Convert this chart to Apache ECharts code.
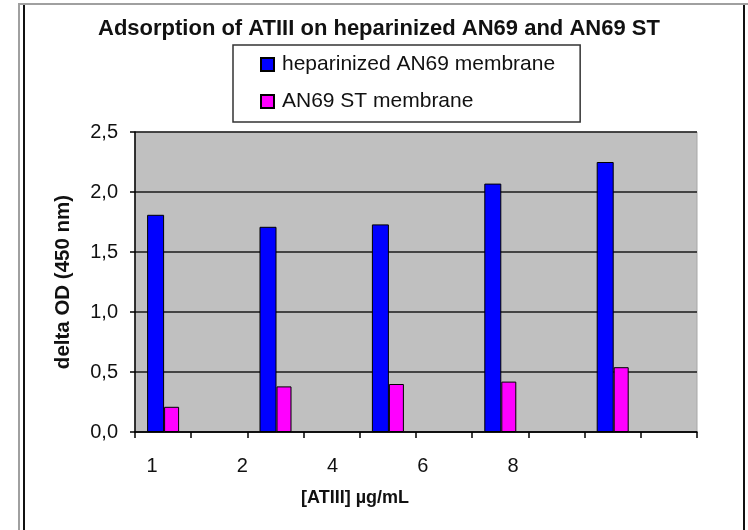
<!DOCTYPE html>
<html>
<head>
<meta charset="utf-8">
<title>Adsorption of ATIII</title>
<script src="https://cdn.jsdelivr.net/npm/echarts@6.0.0/dist/echarts.min.js"></script>
<style>
  html, body { margin: 0; padding: 0; background: #fff; }
  #main { width: 748px; height: 530px; }
</style>
</head>
<body>
<div id="main"></div>
<script>
// data
var concentrations = ['1', '2', '4', '6', '8'];
var heparinizedAN69 = [1.81, 1.71, 1.73, 2.07, 2.25];
var an69ST = [0.21, 0.38, 0.40, 0.42, 0.54];
var yMin = 0, yMax = 2.5, yStep = 0.5;

// the excel chart has an empty slot after every group of bars
var slots = [];
var blueSlots = [];
var pinkSlots = [];
concentrations.forEach(function (c, i) {
  slots.push(c, c + '+');
  blueSlots.push(heparinizedAN69[i], '-');
  pinkSlots.push(an69ST[i], '-');
});

var font = "'Liberation Sans', Arial, sans-serif";

var myChart = echarts.init(document.getElementById('main'));

var option = {
  backgroundColor: '#fff',
  animation: false,
  title: {
    text: 'Adsorption of ATIII on heparinized AN69 and AN69 ST',
    left: 93,
    top: 13,
    textStyle: { fontFamily: font, fontSize: 22, fontWeight: 'bold', color: '#111' }
  },
  legend: {
    orient: 'vertical',
    left: 233,
    top: 45,
    padding: [9, 25, 10, 27],
    icon: 'rect',
    itemWidth: 13,
    itemHeight: 13,
    itemGap: 16,
    borderColor: '#333',
    borderWidth: 1.5,
    backgroundColor: '#fff',
    textStyle: { fontFamily: font, fontSize: 21, color: '#111', padding: [0, 0, 0, 3] },
    data: ['heparinized AN69 membrane', 'AN69 ST membrane']
  },
  grid: [
    { left: 135, top: 132, width: 562, height: 300, show: true, backgroundColor: '#c0c0c0', borderColor: '#a8a8a8', borderWidth: 1 },
    // only used to place the tick labels of the x axis
    { left: 152, top: 431, width: 361, height: 1 }
  ],
  xAxis: [
    {
      type: 'category',
      gridIndex: 0,
      data: slots,
      axisLine: { lineStyle: { color: '#000', width: 1.5 } },
      axisTick: { show: true, interval: 0, length: 6, lineStyle: { color: '#000', width: 1.5 } },
      axisLabel: { show: false }
    },
    {
      type: 'category',
      gridIndex: 1,
      data: concentrations,
      boundaryGap: false,
      axisLine: { show: false },
      axisTick: { show: false },
      axisLabel: { margin: 24, fontFamily: font, fontSize: 20, color: '#111' }
    }
  ],
  yAxis: [
    {
      type: 'value',
      gridIndex: 0,
      min: yMin,
      max: yMax,
      interval: yStep,
      name: 'delta OD (450 nm)',
      nameLocation: 'middle',
      nameGap: 61,
      nameTextStyle: { fontFamily: font, fontSize: 20.5, fontWeight: 'bold', color: '#111' },
      axisLine: { show: true, lineStyle: { color: '#000', width: 1.5 } },
      axisTick: { show: true, length: 5, lineStyle: { color: '#000', width: 1.5 } },
      axisLabel: {
        margin: 17,
        fontFamily: font,
        fontSize: 20,
        color: '#111',
        formatter: function (v) { return v.toFixed(1).replace('.', ','); }
      },
      splitLine: { lineStyle: { color: '#1a1a1a', width: 1.5 } }
    },
    { type: 'value', gridIndex: 1, show: false }
  ],
  graphic: [
    { type: 'rect', shape: { x: 19, y: 4, width: 760, height: 560 }, style: { fill: 'none', stroke: '#a0a0a0', lineWidth: 2 } },
    { type: 'line', shape: { x1: 24, y1: 5, x2: 24, y2: 530 }, style: { stroke: '#111', lineWidth: 2 } },
    { type: 'line', shape: { x1: 744, y1: 5, x2: 744, y2: 530 }, style: { stroke: '#111', lineWidth: 2 } },
    {
      type: 'text', x: 355, y: 498,
      style: { text: '[ATIII] µg/mL', fontFamily: font, fontSize: 18, fontWeight: 'bold', fill: '#111', align: 'center', verticalAlign: 'middle' }
    }
  ],
  series: [
    {
      name: 'heparinized AN69 membrane',
      type: 'bar',
      xAxisIndex: 0,
      yAxisIndex: 0,
      data: blueSlots,
      barWidth: 17,
      barGap: '0%',
      itemStyle: { color: '#0000ff', borderColor: '#000', borderWidth: 1 }
    },
    {
      name: 'AN69 ST membrane',
      type: 'bar',
      xAxisIndex: 0,
      yAxisIndex: 0,
      data: pinkSlots,
      barWidth: 15,
      barGap: '0%',
      itemStyle: { color: '#ff00ff', borderColor: '#000', borderWidth: 1 }
    }
  ]
};

myChart.setOption(option);
</script>
</body>
</html>
